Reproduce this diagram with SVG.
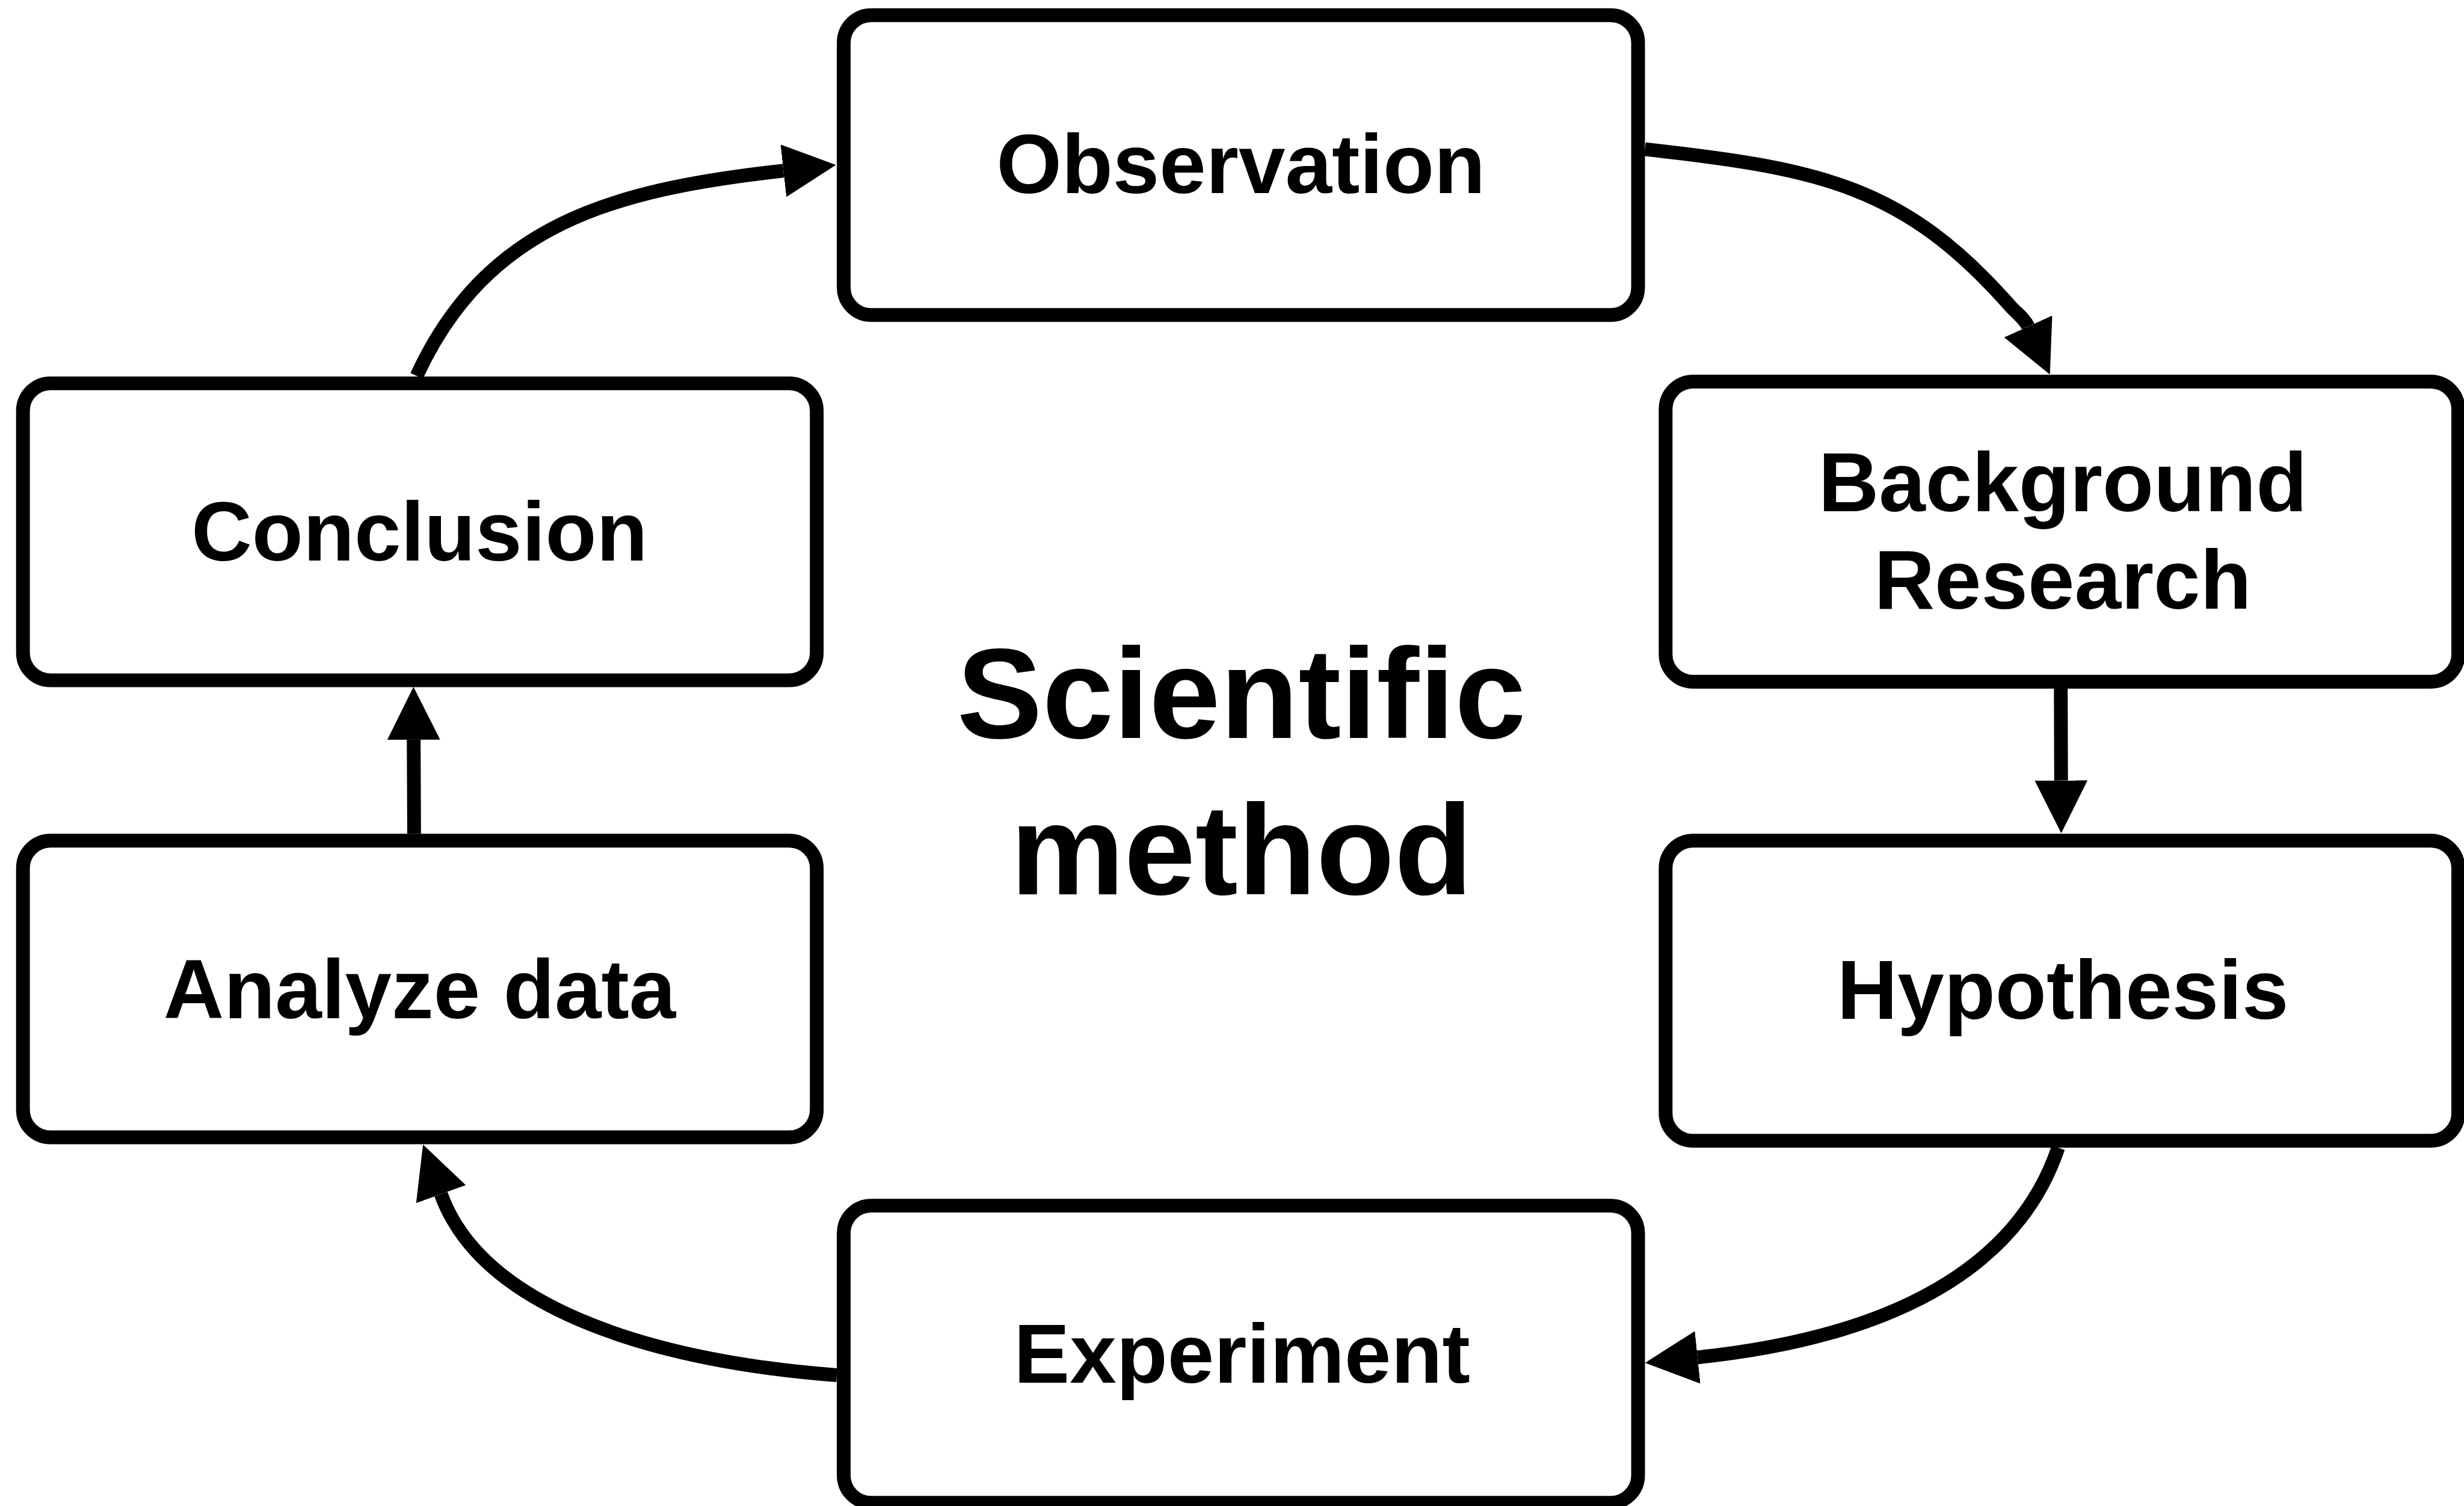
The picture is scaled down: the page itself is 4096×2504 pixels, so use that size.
<svg xmlns="http://www.w3.org/2000/svg" width="4096" height="2504" viewBox="0 0 4096 2504">
  <defs>
    <style>
      .box { fill: #ffffff; stroke: #000000; stroke-width: 24; }
      .label { font-family: "Liberation Sans", Arial, Helvetica, sans-serif; font-weight: bold; font-size: 146px; text-anchor: middle; fill: #000000; }
      .title { font-size: 223px; }
      .edge { fill: none; stroke: #000000; stroke-width: 24; marker-end: url(#arrow); }
    </style>
    <marker id="arrow" markerUnits="userSpaceOnUse" viewBox="0 0 92 92" refX="0" refY="46" markerWidth="92" markerHeight="92" orient="auto">
      <path d="M0,0 L92,46 L0,92 Z" fill="#000000"/>
    </marker>
  </defs>

  <rect width="4096" height="2504" fill="#ffffff"/>

  <g transform="scale(0.95411)">
    <!-- centre title -->
    <g id="title">
      <text class="label title" x="2163" y="1286">Scientific</text>
      <text class="label title" x="2163" y="1559">method</text>
    </g>

    <!-- process steps -->
    <g id="observation">
      <rect class="box" x="1470" y="26.5" width="1384" height="522.5" rx="48" ry="48"/>
      <text class="label" x="2162" y="336">Observation</text>
    </g>
    <g id="background-research">
      <rect class="box" x="2902" y="665" width="1381" height="523" rx="48" ry="48"/>
      <text class="label" x="3594" y="891">Background</text>
      <text class="label" x="3594" y="1061">Research</text>
    </g>
    <g id="hypothesis">
      <rect class="box" x="2902" y="1465" width="1381" height="523" rx="48" ry="48"/>
      <text class="label" x="3594" y="1775">Hypothesis</text>
    </g>
    <g id="experiment">
      <rect class="box" x="1470" y="2101" width="1384" height="518" rx="48" ry="48"/>
      <text class="label" x="2164" y="2410">Experiment</text>
    </g>
    <g id="analyze-data">
      <rect class="box" x="40" y="1465" width="1383" height="517" rx="48" ry="48"/>
      <text class="label" x="731" y="1774">Analyze data</text>
    </g>
    <g id="conclusion">
      <rect class="box" x="40" y="668" width="1383" height="517.5" rx="48" ry="48"/>
      <text class="label" x="731" y="977">Conclusion</text>
    </g>

    <!-- connectors -->
    <g id="connectors">
      <path class="edge" d="M2866,260 C3174,294.4 3318.2,324 3503,534 C3512.9,545.3 3527.4,555.2 3533.6,568.9"/>
      <path class="edge" d="M3590.5,1200 L3591,1360"/>
      <path class="edge" d="M3586,2000 C3499.6,2256.5 3206.5,2339.4 2957.7,2365.4"/>
      <path class="edge" d="M1458,2396.5 C1158.9,2374 843.1,2287.8 768.3,2081"/>
      <path class="edge" d="M721.5,1453 L720.8,1289"/>
      <path class="edge" d="M726,655 C847.8,391.1 1066.8,330.5 1365,297.5"/>
    </g>
  </g>
</svg>
